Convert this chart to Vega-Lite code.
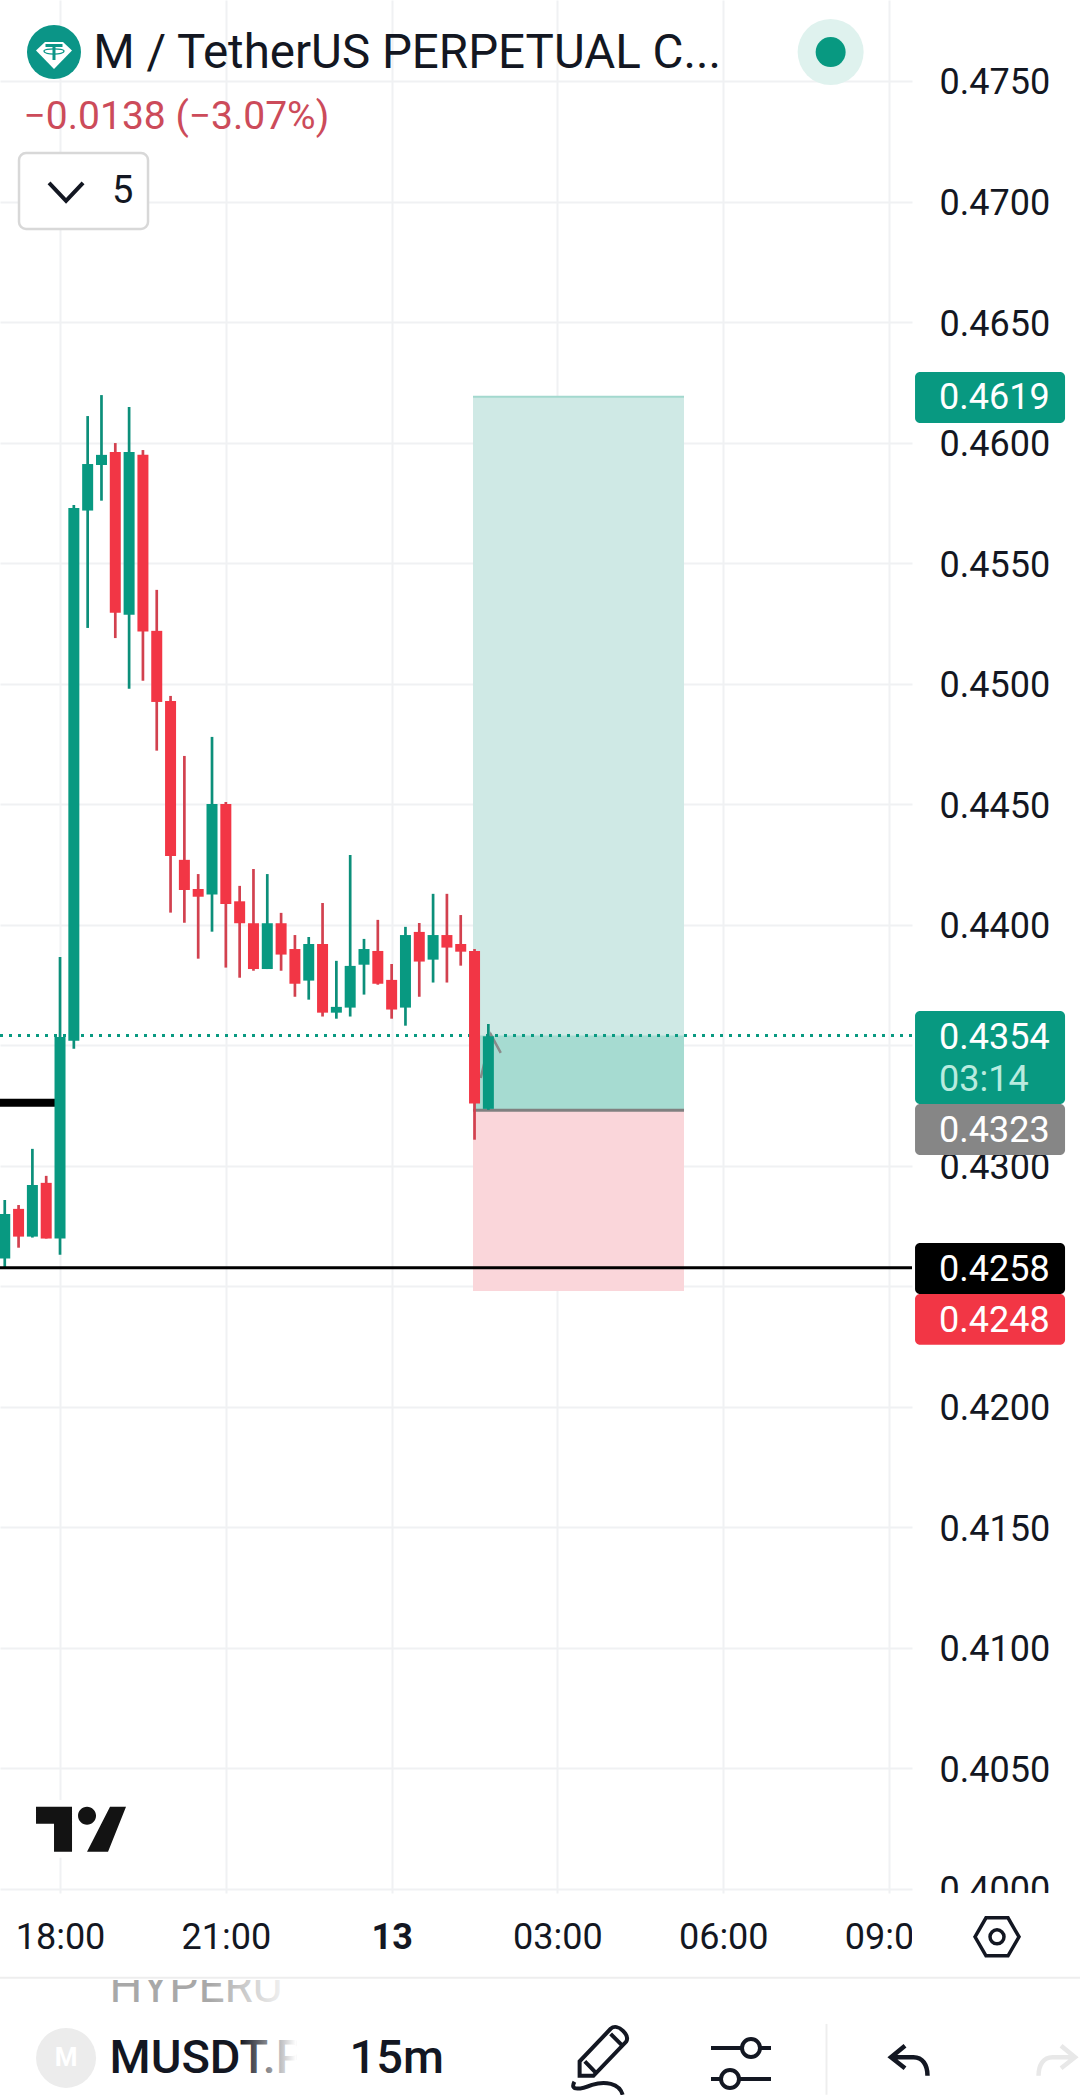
{
  "$schema": "https://vega.github.io/schema/vega-lite/v6.json",
  "width": 912,
  "height": 1893,
  "autosize": "none",
  "padding": {"left": 0, "top": 0, "right": 168, "bottom": 202},
  "background": "#ffffff",
  "view": {"stroke": null},
  "datasets": {
    "candles": [
      {"h": 17.0, "open": 0.42615, "high": 0.42858, "low": 0.4258, "close": 0.428},
      {"h": 17.25, "open": 0.42821, "high": 0.42837, "low": 0.4266, "close": 0.42706},
      {"h": 17.5, "open": 0.42706, "high": 0.4307, "low": 0.42702, "close": 0.4292},
      {"h": 17.75, "open": 0.42929, "high": 0.42958, "low": 0.42698, "close": 0.42698},
      {"h": 18.0, "open": 0.42698, "high": 0.43866, "low": 0.42631, "close": 0.43534},
      {"h": 18.25, "open": 0.43518, "high": 0.45741, "low": 0.43485, "close": 0.45729},
      {"h": 18.5, "open": 0.45718, "high": 0.4611, "low": 0.45231, "close": 0.45911},
      {"h": 18.75, "open": 0.45907, "high": 0.46197, "low": 0.45759, "close": 0.45949},
      {"h": 19.0, "open": 0.45961, "high": 0.45998, "low": 0.45189, "close": 0.45294},
      {"h": 19.25, "open": 0.45286, "high": 0.46148, "low": 0.44979, "close": 0.45961},
      {"h": 19.5, "open": 0.45949, "high": 0.45969, "low": 0.45012, "close": 0.45216},
      {"h": 19.75, "open": 0.45219, "high": 0.45389, "low": 0.44722, "close": 0.44924},
      {"h": 20.0, "open": 0.44928, "high": 0.44949, "low": 0.4405, "close": 0.44285},
      {"h": 20.25, "open": 0.44269, "high": 0.447, "low": 0.44008, "close": 0.44144},
      {"h": 20.5, "open": 0.44148, "high": 0.4421, "low": 0.43859, "close": 0.44116},
      {"h": 20.75, "open": 0.44125, "high": 0.44779, "low": 0.43971, "close": 0.44501},
      {"h": 21.0, "open": 0.44501, "high": 0.44509, "low": 0.43822, "close": 0.44086},
      {"h": 21.25, "open": 0.44097, "high": 0.44161, "low": 0.4378, "close": 0.44006},
      {"h": 21.5, "open": 0.44006, "high": 0.44231, "low": 0.43809, "close": 0.43816},
      {"h": 21.75, "open": 0.43816, "high": 0.4421, "low": 0.43816, "close": 0.44006},
      {"h": 22.0, "open": 0.44006, "high": 0.44049, "low": 0.43809, "close": 0.43876},
      {"h": 22.25, "open": 0.43899, "high": 0.43957, "low": 0.43701, "close": 0.43755},
      {"h": 22.5, "open": 0.43768, "high": 0.43949, "low": 0.43689, "close": 0.4392},
      {"h": 22.75, "open": 0.4392, "high": 0.4409, "low": 0.43619, "close": 0.43635},
      {"h": 23.0, "open": 0.43635, "high": 0.4385, "low": 0.4361, "close": 0.43659},
      {"h": 23.25, "open": 0.43656, "high": 0.44289, "low": 0.43619, "close": 0.43829},
      {"h": 23.5, "open": 0.43834, "high": 0.43941, "low": 0.4371, "close": 0.43899},
      {"h": 23.75, "open": 0.43891, "high": 0.4402, "low": 0.43751, "close": 0.43755},
      {"h": 24.0, "open": 0.43771, "high": 0.43837, "low": 0.4361, "close": 0.43648},
      {"h": 24.25, "open": 0.43656, "high": 0.43991, "low": 0.43581, "close": 0.43957},
      {"h": 24.5, "open": 0.4397, "high": 0.44007, "low": 0.43701, "close": 0.43847},
      {"h": 24.75, "open": 0.43855, "high": 0.44128, "low": 0.4376, "close": 0.43957},
      {"h": 25.0, "open": 0.43957, "high": 0.44128, "low": 0.4376, "close": 0.43905},
      {"h": 25.25, "open": 0.4392, "high": 0.4404, "low": 0.4383, "close": 0.43888},
      {"h": 25.5, "open": 0.43891, "high": 0.43899, "low": 0.43108, "close": 0.43258},
      {"h": 25.75, "open": 0.43236, "high": 0.43588, "low": 0.43232, "close": 0.43537}
    ]
  },
  "encoding": {
    "x": {"field": "h", "type": "quantitative", "scale": {"domain": [16.914, 33.415], "nice": false, "zero": false, "padding": 0}},
    "y": {"field": "p", "type": "quantitative", "scale": {"domain": [0.39983, 0.47836], "nice": false, "zero": false, "padding": 0}}
  },
  "layer": [
    {
      "data": {"values": [{"h": 25.472, "h1": 29.29, "p": 0.4619, "p1": 0.4323}]},
      "mark": {"type": "rect", "fill": "#cfe9e5"},
      "encoding": {
        "x": {
          "field": "h", "type": "quantitative",
          "scale": {"domain": [16.914, 33.415], "nice": false, "zero": false, "padding": 0},
          "axis": {
            "title": null, "values": [18, 21, 24, 27, 30, 33], "domain": false, "ticks": false,
            "grid": true, "gridColor": "#f0f1f3", "gridWidth": 2,
            "labelExpr": "datum.value == 24 ? '13' : ((datum.value % 24 < 10 ? '0' : '') + (datum.value % 24) + ':00')",
            "labelFont": "Roboto", "labelFontSize": 36, "labelColor": "#131722", "labelPadding": 27,
            "labelFontWeight": {"condition": {"test": "datum.value == 24", "value": "bold"}, "value": "normal"},
            "labelOverlap": false, "labelBound": false, "labelFlush": false
          }
        },
        "x2": {"field": "h1"},
        "y": {
          "field": "p", "type": "quantitative",
          "scale": {"domain": [0.39983, 0.47836], "nice": false, "zero": false, "padding": 0},
          "axis": {
            "title": null, "orient": "right", "domain": false, "ticks": false,
            "values": [0.4, 0.405, 0.41, 0.415, 0.42, 0.425, 0.43, 0.435, 0.44, 0.445, 0.45, 0.455, 0.46, 0.465, 0.47, 0.475],
            "format": ".4f", "grid": true, "gridColor": "#f0f1f3", "gridWidth": 2,
            "labelFont": "Roboto", "labelFontSize": 36, "labelColor": "#131722", "labelPadding": 27, "labelOffset": 2,
            "labelOverlap": false, "labelBound": false, "labelFlush": false
          }
        },
        "y2": {"field": "p1"}
      }
    },
    {
      "data": {"values": [{"h": 25.472, "h1": 29.29, "p": 0.4354, "p1": 0.4323}]},
      "mark": {"type": "rect", "fill": "#a6dbd1"},
      "encoding": {"x2": {"field": "h1"}, "y2": {"field": "p1"}}
    },
    {
      "data": {"values": [{"h": 25.472, "h1": 29.29, "p": 0.4323, "p1": 0.4248}]},
      "mark": {"type": "rect", "fill": "#fad6da"},
      "encoding": {"x2": {"field": "h1"}, "y2": {"field": "p1"}}
    },
    {
      "data": {"values": [{"h": 25.472, "h1": 29.29, "p": 0.4619}]},
      "mark": {"type": "rule", "stroke": "#a3d8ce", "strokeWidth": 2},
      "encoding": {"x2": {"field": "h1"}}
    },
    {
      "data": {"values": [{"h": 25.472, "h1": 29.29, "p": 0.4323}]},
      "mark": {"type": "rule", "stroke": "#808080", "strokeWidth": 3},
      "encoding": {"x2": {"field": "h1"}}
    },
    {
      "data": {"values": [{"h": 16.914, "h1": 33.415, "p": 0.4354}]},
      "mark": {"type": "rule", "stroke": "#089981", "strokeWidth": 3, "strokeDash": [3, 6]},
      "encoding": {"x2": {"field": "h1"}}
    },
    {
      "data": {"values": [{"h": 16.914, "h1": 18.0, "p": 0.43261}]},
      "mark": {"type": "rule", "stroke": "#000000", "strokeWidth": 8},
      "encoding": {"x2": {"field": "h1"}}
    },
    {
      "data": {"values": [
        {"h": 25.612, "p": 0.43364, "n": 1},
        {"h": 25.798, "p": 0.43543, "n": 2},
        {"h": 25.974, "p": 0.43468, "n": 3}
      ]},
      "mark": {"type": "line", "stroke": "#8a8a8a", "strokeWidth": 2.5},
      "encoding": {"order": {"field": "n"}}
    },
    {
      "data": {"name": "candles"},
      "mark": {"type": "rule", "strokeWidth": 2.7},
      "encoding": {
        "y": {"field": "low", "type": "quantitative", "scale": {"domain": [0.39983, 0.47836], "nice": false, "zero": false, "padding": 0}},
        "y2": {"field": "high"},
        "color": {"condition": {"test": "datum.close >= datum.open", "value": "#0c8f7a"}, "value": "#d2414f"}
      }
    },
    {
      "data": {"name": "candles"},
      "mark": {"type": "bar", "size": 11, "orient": "vertical"},
      "encoding": {
        "y": {"field": "open", "type": "quantitative", "scale": {"domain": [0.39983, 0.47836], "nice": false, "zero": false, "padding": 0}},
        "y2": {"field": "close"},
        "color": {"condition": {"test": "datum.close >= datum.open", "value": "#089981"}, "value": "#f23645"}
      }
    },
    {
      "data": {"values": [{"h": 16.914, "h1": 33.415, "p": 0.42577}]},
      "mark": {"type": "rule", "stroke": "#000000", "strokeWidth": 3},
      "encoding": {"x2": {"field": "h1"}}
    },
    {
      "data": {"values": [{"h": 33.415, "h1": 36.455, "p": 0.39983, "p1": 0.39631}]},
      "mark": {"type": "rect", "fill": "#ffffff"},
      "encoding": {"x2": {"field": "h1"}, "y2": {"field": "p1"}}
    },
    {
      "data": {"values": [{"h": 33.47, "h1": 36.184, "p": 0.46293, "p1": 0.46081}, {"h": 33.47, "h1": 36.184, "p": 0.43642, "p1": 0.43256}]},
      "mark": {"type": "rect", "fill": "#089981", "cornerRadius": 5},
      "encoding": {"x2": {"field": "h1"}, "y2": {"field": "p1"}}
    },
    {
      "data": {"values": [{"h": 33.47, "h1": 36.184, "p": 0.43256, "p1": 0.43045}]},
      "mark": {"type": "rect", "fill": "#868686", "cornerRadius": 5},
      "encoding": {"x2": {"field": "h1"}, "y2": {"field": "p1"}}
    },
    {
      "data": {"values": [{"h": 33.47, "h1": 36.184, "p": 0.4268, "p1": 0.42468}]},
      "mark": {"type": "rect", "fill": "#000000", "cornerRadius": 5},
      "encoding": {"x2": {"field": "h1"}, "y2": {"field": "p1"}}
    },
    {
      "data": {"values": [{"h": 33.47, "h1": 36.184, "p": 0.42468, "p1": 0.42257}]},
      "mark": {"type": "rect", "fill": "#f23645", "cornerRadius": 5},
      "encoding": {"x2": {"field": "h1"}, "y2": {"field": "p1"}}
    },
    {
      "data": {"values": [
        {"h": 33.904, "p": 0.46183, "label": "0.4619"},
        {"h": 33.904, "p": 0.43528, "label": "0.4354"},
        {"h": 33.904, "p": 0.43143, "label": "0.4323"},
        {"h": 33.904, "p": 0.42566, "label": "0.4258"},
        {"h": 33.904, "p": 0.42354, "label": "0.4248"}
      ]},
      "mark": {"type": "text", "align": "left", "baseline": "middle", "font": "Roboto", "fontSize": 36, "color": "#ffffff"},
      "encoding": {"text": {"field": "label"}}
    },
    {
      "data": {"values": [{"h": 33.904, "p": 0.43354, "label": "03:14"}]},
      "mark": {"type": "text", "align": "left", "baseline": "middle", "font": "Roboto", "fontSize": 36, "color": "#b9ebdf"},
      "encoding": {"text": {"field": "label"}}
    },
    {
      "data": {"values": [{"h": 17.457, "h1": 19.267, "p": 0.40369, "p1": 0.40129}]},
      "mark": {"type": "rect", "fill": "#ffffff"},
      "encoding": {"x2": {"field": "h1"}, "y2": {"field": "p1"}}
    },
    {
      "data": {"values": [{"h": 18.38, "p": 0.40245}]},
      "mark": {
        "type": "point", "filled": true, "opacity": 1, "size": 10000, "color": "#131313",
        "shape": "M-.9,-.46 L-.18,-.46 L-.18,.44 L-.54,.44 L-.54,-.12 L-.9,-.12 Z M.3,-.28 A.18,.18 0 1 0 -.06,-.28 A.18,.18 0 1 0 .3,-.28 Z M.58,-.46 L.9,-.46 L.54,.44 L.12,.44 Z"
      }
    },
    {
      "data": {"values": [{"h": 17.891, "p": 0.4762}]},
      "mark": {"type": "point", "filled": true, "opacity": 1, "size": 2916, "shape": "circle", "color": "#0b9587"}
    },
    {
      "data": {"values": [{"h": 17.891, "p": 0.4762}]},
      "mark": {
        "type": "point", "filled": true, "opacity": 1, "size": 10000, "color": "#ffffff",
        "shape": "M-.18,-.2 L.18,-.2 L.36,-.03 L0,.34 L-.36,-.03 Z"
      }
    },
    {
      "data": {"values": [{"h": 17.891, "p": 0.4762}]},
      "mark": {
        "type": "point", "filled": true, "opacity": 1, "size": 10000, "color": "#0b9587",
        "shape": "M-.17,-.16 L.17,-.16 L.17,-.1 L.03,-.1 L.03,.16 L-.03,.16 L-.03,-.1 L-.17,-.1 Z"
      }
    },
    {
      "data": {"values": [{"h": 17.891, "p": 0.4762}]},
      "mark": {
        "type": "point", "filled": false, "opacity": 1, "size": 10000, "color": "#0b9587", "strokeWidth": 1.2,
        "shape": "M.2,-.02 C.2,.06 -.2,.06 -.2,-.02 C-.2,-.08 .2,-.08 .2,-.02 Z"
      }
    },
    {
      "data": {"values": [{"h": 31.943, "p": 0.4762}]},
      "mark": {"type": "point", "filled": true, "opacity": 1, "size": 4356, "shape": "circle", "color": "#dff2ee"}
    },
    {
      "data": {"values": [{"h": 31.943, "p": 0.4762}]},
      "mark": {"type": "point", "filled": true, "opacity": 1, "size": 900, "shape": "circle", "color": "#089981"}
    },
    {
      "data": {"values": [{"h": 18.6, "p": 0.47553, "label": "M / TetherUS PERPETUAL C..."}]},
      "mark": {"type": "text", "align": "left", "baseline": "alphabetic", "font": "Roboto", "fontSize": 47.5, "color": "#131722"},
      "encoding": {"text": {"field": "label"}}
    },
    {
      "data": {"values": [{"h": 17.34, "p": 0.47301, "label": "−0.0138 (−3.07%)"}]},
      "mark": {"type": "text", "align": "left", "baseline": "alphabetic", "font": "Roboto", "fontSize": 39, "color": "#cc4b5a"},
      "encoding": {"text": {"field": "label"}}
    },
    {
      "data": {"values": [{"h": 17.258, "h1": 19.592, "p": 0.47201, "p1": 0.46886}]},
      "mark": {"type": "rect", "fill": "#ffffff", "stroke": "#d8d8d8", "strokeWidth": 2.5, "cornerRadius": 7},
      "encoding": {"x2": {"field": "h1"}, "y2": {"field": "p1"}}
    },
    {
      "data": {"values": [{"h": 18.109, "p": 0.4704}]},
      "mark": {
        "type": "point", "filled": false, "opacity": 1, "size": 10000, "color": "#131722", "strokeWidth": 4,
        "shape": "M-.34,-.18 L0,.18 L.34,-.18"
      }
    },
    {
      "data": {"values": [{"h": 18.94, "p": 0.46994, "label": "5"}]},
      "mark": {"type": "text", "align": "left", "baseline": "alphabetic", "font": "Roboto", "fontSize": 38, "color": "#131722"},
      "encoding": {"text": {"field": "label"}}
    },
    {
      "data": {"values": [{"h": 34.953, "p": 0.39801}]},
      "mark": {
        "type": "point", "filled": false, "opacity": 1, "size": 10000, "color": "#131722", "strokeWidth": 3.5,
        "shape": "M-.44,0 L-.22,-.38 L.22,-.38 L.44,0 L.22,.38 L-.22,.38 Z M.14,0 A.14,.14 0 1 0 -.14,0 A.14,.14 0 1 0 .14,0 Z"
      }
    },
    {
      "data": {"values": [{"h": 18.896, "p": 0.39531, "label": "HYPERU"}]},
      "mark": {"type": "text", "align": "left", "baseline": "alphabetic", "font": "Roboto", "fontSize": 46, "color": "#a8a8a8"},
      "encoding": {"text": {"field": "label"}}
    },
    {
      "data": {"values": [{"h": 18.724, "h1": 22.523, "p": 0.39706, "p1": 0.39622}]},
      "mark": {"type": "rect", "fill": "#ffffff"},
      "encoding": {"x2": {"field": "h1"}, "y2": {"field": "p1"}}
    },
    {
      "data": {"values": [{"h": 20.714, "h1": 22.27, "p": 0.39622, "p1": 0.39506}]},
      "mark": {
        "type": "rect",
        "fill": {"gradient": "linear", "x1": 0, "x2": 1, "y1": 0, "y2": 0, "stops": [{"offset": 0, "color": "rgba(255,255,255,0)"}, {"offset": 1, "color": "rgba(255,255,255,1)"}]}
      },
      "encoding": {"x2": {"field": "h1"}, "y2": {"field": "p1"}}
    },
    {
      "data": {"values": [{"h": 16.914, "h1": 36.455, "p": 0.39631}]},
      "mark": {"type": "rule", "stroke": "#eeeeee", "strokeWidth": 2},
      "encoding": {"x2": {"field": "h1"}}
    },
    {
      "data": {"values": [{"h": 31.868, "p": 0.3944, "p1": 0.39146}]},
      "mark": {"type": "rule", "stroke": "#eeeeee", "strokeWidth": 2},
      "encoding": {"y2": {"field": "p1"}}
    },
    {
      "data": {"values": [{"h": 18.109, "p": 0.39299}]},
      "mark": {"type": "point", "filled": true, "opacity": 1, "size": 3600, "shape": "circle", "color": "#ececec"}
    },
    {
      "data": {"values": [{"h": 18.109, "p": 0.39299, "label": "M"}]},
      "mark": {"type": "text", "align": "center", "baseline": "middle", "font": "Roboto", "fontSize": 26, "fontWeight": "bold", "color": "#ffffff"},
      "encoding": {"text": {"field": "label"}}
    },
    {
      "data": {"values": [{"h": 18.896, "p": 0.39237, "label": "MUSDT.P"}, {"h": 23.238, "p": 0.39237, "label": "15m"}]},
      "mark": {"type": "text", "align": "left", "baseline": "alphabetic", "font": "Roboto", "fontSize": 47, "fontWeight": 500, "color": "#131722"},
      "encoding": {"text": {"field": "label"}}
    },
    {
      "data": {"values": [{"h": 21.257, "h1": 22.27, "p": 0.39415, "p1": 0.392}]},
      "mark": {
        "type": "rect",
        "fill": {"gradient": "linear", "x1": 0, "x2": 1, "y1": 0, "y2": 0, "stops": [{"offset": 0, "color": "rgba(255,255,255,0)"}, {"offset": 1, "color": "rgba(255,255,255,1)"}]}
      },
      "encoding": {"x2": {"field": "h1"}, "y2": {"field": "p1"}}
    },
    {
      "data": {"values": [{"h": 22.27, "h1": 23.1, "p": 0.39415, "p1": 0.392}]},
      "mark": {"type": "rect", "fill": "#ffffff"},
      "encoding": {"x2": {"field": "h1"}, "y2": {"field": "p1"}}
    },
    {
      "data": {"values": [{"h": 27.716, "p": 0.39291}]},
      "mark": {
        "type": "point", "filled": false, "opacity": 1, "size": 10000, "color": "#131722", "strokeWidth": 4,
        "shape": "M-.348,.32 L-.348,.032 L.272,-.62 C.34,-.68 .44,-.66 .52,-.58 C.6,-.5 .62,-.42 .58,-.36 L-.072,.32 Z M-.244,.032 L-.04,.24 M.272,-.52 L.512,-.28 M-.452,.44 C-.56,.64 -.3,.58 -.1,.5 C.15,.42 .45,.46 .512,.7"
      }
    },
    {
      "data": {"values": [{"h": 30.321, "p": 0.39276}]},
      "mark": {
        "type": "point", "filled": false, "opacity": 1, "size": 10000, "color": "#131722", "strokeWidth": 4,
        "shape": "M-.6,-.31 L.02,-.31 M.38,-.31 L.6,-.31 M.38,-.31 A.18,.18 0 1 0 .02,-.31 A.18,.18 0 1 0 .38,-.31 Z M-.6,.31 L-.4,.31 M-.04,.31 L.6,.31 M-.04,.31 A.18,.18 0 1 0 -.4,.31 A.18,.18 0 1 0 -.04,.31 Z"
      }
    },
    {
      "data": {"values": [{"h": 33.379, "p": 0.39287}]},
      "mark": {
        "type": "point", "filled": false, "opacity": 1, "size": 10000, "color": "#131722", "strokeWidth": 4.5,
        "shape": "M-.1,-.3 L-.38,-.07 L-.1,.15 M-.38,-.07 L.07,-.07 C.25,-.07 .35,.08 .35,.3"
      }
    },
    {
      "data": {"values": [{"h": 36.021, "p": 0.39287}]},
      "mark": {
        "type": "point", "filled": false, "opacity": 1, "size": 10000, "color": "#e8e8e8", "strokeWidth": 4.5,
        "shape": "M.1,-.3 L.38,-.07 L.1,.15 M.38,-.07 L-.07,-.07 C-.25,-.07 -.35,.08 -.35,.3"
      }
    }
  ]
}
